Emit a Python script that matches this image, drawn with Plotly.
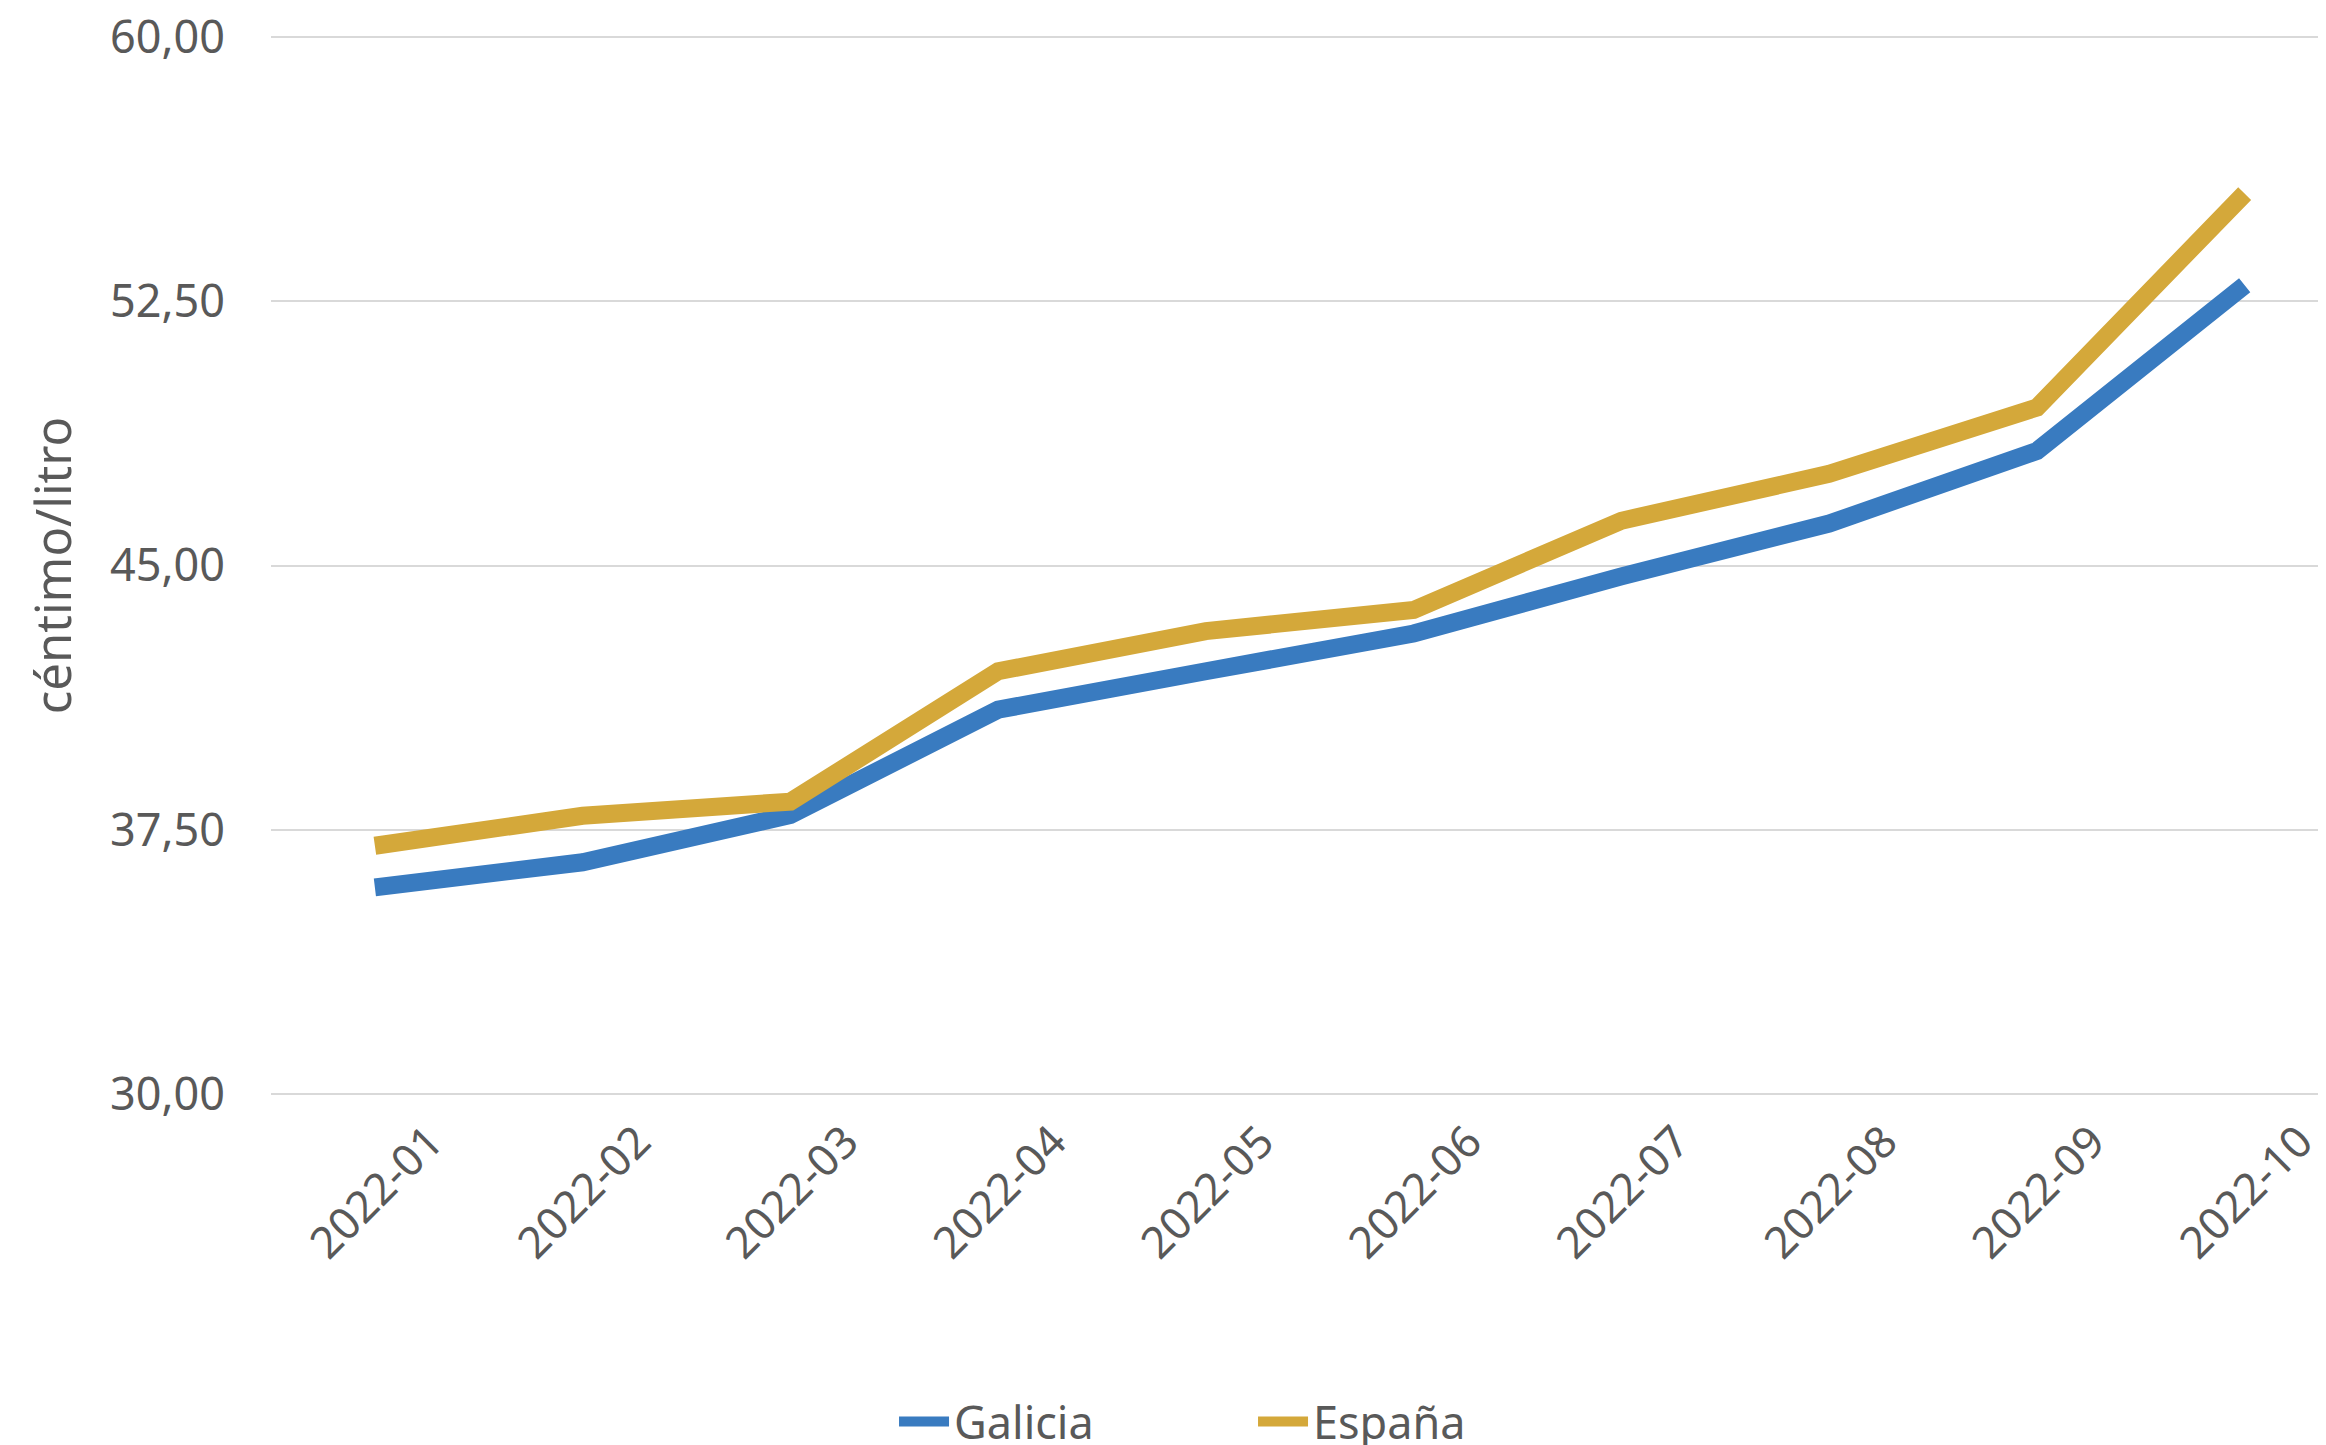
import plotly.graph_objects as go

months = ["2022-01", "2022-02", "2022-03", "2022-04", "2022-05",
          "2022-06", "2022-07", "2022-08", "2022-09", "2022-10"]
galicia = [35.87, 36.58, 37.92, 40.91, 42.00, 43.07, 44.69, 46.19, 48.25, 52.95]
espana = [37.05, 37.90, 38.30, 42.00, 43.14, 43.74, 46.27, 47.60, 49.48, 55.55]
y_ticks = [30, 37.5, 45, 52.5, 60]
y_tick_labels = ["30,00", "37,50", "45,00", "52,50", "60,00"]

FONT = "Noto Sans"
TXT = "#595959"

fig = go.Figure()
fig.add_trace(go.Scatter(x=months, y=galicia, name="Galicia", mode="lines",
                         line=dict(color="#397BC0", width=18)))
fig.add_trace(go.Scatter(x=months, y=espana, name="España", mode="lines",
                         line=dict(color="#D4A83A", width=18)))

fig.update_layout(
    width=2326, height=1445,
    margin=dict(l=263, r=0, t=27, b=357, autoexpand=False),
    paper_bgcolor="white", plot_bgcolor="white",
    font=dict(family=FONT, size=45, color=TXT),
    showlegend=True,
    legend=dict(orientation="h", x=0.302, xanchor="left", y=-0.307, yanchor="middle",
                font=dict(family=FONT, size=45, color=TXT),
                entrywidth=294, itemwidth=50, traceorder="normal"),
    xaxis=dict(type="category", range=[-0.5, 9.43], tickangle=-45,
               showgrid=False, showline=False, ticks="",
               ticklabelshift=55, ticklabelstandoff=10,
               tickfont=dict(family=FONT, size=44, color=TXT)),
    yaxis=dict(range=[29.95, 60.05], tickvals=y_ticks, ticktext=y_tick_labels,
               showgrid=True, gridcolor="#D9D9D9", gridwidth=2, zeroline=False,
               showline=False, ticks="", ticklabelstandoff=45,
               ticklabeloverflow="allow",
               tickfont=dict(family=FONT, size=45, color=TXT),
               title=dict(text="céntimo/litro", standoff=22,
                          font=dict(family=FONT, size=49, color=TXT))),
)

fig.write_html("out.html")
